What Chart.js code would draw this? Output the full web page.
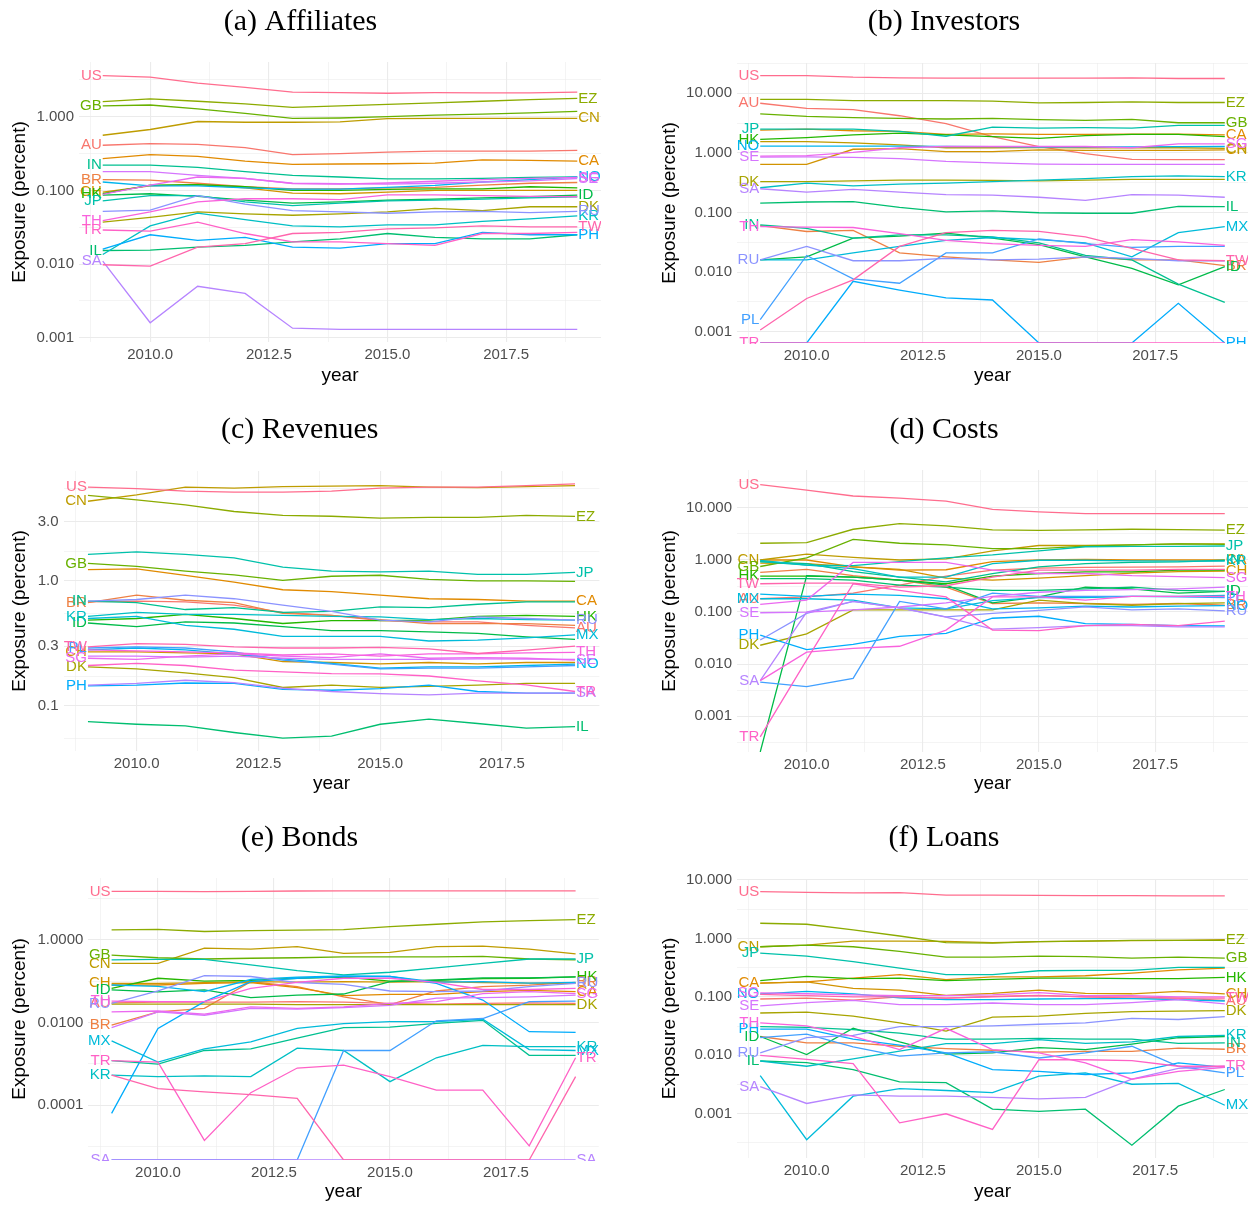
<!DOCTYPE html>
<html><head><meta charset="utf-8">
<script src="https://cdn.jsdelivr.net/npm/chart.js@4.4.1/dist/chart.umd.min.js"></script>
<style>
html,body{margin:0;padding:0;background:#fff;overflow:hidden;width:1251px;height:1205px}
body{position:relative}
canvas{position:absolute;display:block}
</style></head><body>
<canvas id="pa"></canvas><canvas id="pb"></canvas><canvas id="pc"></canvas>
<canvas id="pd"></canvas><canvas id="pe"></canvas><canvas id="pf"></canvas>
<script>
// ---------------- DATA ----------------
const years = [2009, 2010, 2011, 2012, 2013, 2014, 2015, 2016, 2017, 2018, 2019];
const countries = ['AU','BR','CA','CH','CN','DK','EZ','GB','HK','ID','IL','IN','JP','KR','MX','NO','PH','PL','RU','SA','SE','SG','TH','TR','TW','US'];
const xMajorTicks = [2010, 2012.5, 2015, 2017.5];
const xMinorTicks = [2008.75, 2011.25, 2013.75, 2016.25, 2018.75];

// (a) Affiliates
const affiliates = {
  US: [3.6, 3.45, 2.85, 2.5, 2.15, 2.12, 2.08, 2.12, 2.1, 2.1, 2.15],
  EZ: [1.6, 1.74, 1.62, 1.49, 1.34, 1.4, 1.47, 1.54, 1.62, 1.7, 1.77],
  GB: [1.4, 1.44, 1.28, 1.11, 0.95, 0.96, 1.0, 1.05, 1.08, 1.13, 1.18],
  CN: [0.56, 0.67, 0.86, 0.84, 0.84, 0.85, 0.94, 0.95, 0.95, 0.95, 0.95],
  AU: [0.41, 0.43, 0.42, 0.38, 0.305, 0.315, 0.33, 0.34, 0.34, 0.34, 0.35],
  CA: [0.27, 0.305, 0.29, 0.25, 0.225, 0.228, 0.23, 0.235, 0.26, 0.255, 0.25],
  IN: [0.22, 0.22, 0.205, 0.18, 0.16, 0.152, 0.143, 0.143, 0.146, 0.15, 0.153],
  SE: [0.18, 0.18, 0.16, 0.145, 0.125, 0.123, 0.122, 0.125, 0.13, 0.135, 0.145],
  BR: [0.14, 0.138, 0.125, 0.112, 0.105, 0.105, 0.108, 0.11, 0.118, 0.125, 0.128],
  NO: [0.13, 0.115, 0.115, 0.108, 0.104, 0.104, 0.11, 0.117, 0.13, 0.14, 0.152],
  SG: [0.088, 0.118, 0.152, 0.146, 0.124, 0.122, 0.126, 0.133, 0.14, 0.146, 0.15],
  CH: [0.095, 0.115, 0.12, 0.108, 0.092, 0.09, 0.095, 0.1, 0.1, 0.1, 0.1],
  HK: [0.09, 0.118, 0.12, 0.112, 0.1, 0.1, 0.103, 0.105, 0.105, 0.112, 0.108],
  JP: [0.072, 0.085, 0.085, 0.07, 0.062, 0.067, 0.072, 0.074, 0.076, 0.079, 0.082],
  ID: [0.086, 0.09, 0.083, 0.074, 0.067, 0.07, 0.074, 0.076, 0.079, 0.082, 0.086],
  TH: [0.039, 0.051, 0.07, 0.077, 0.077, 0.075, 0.087, 0.087, 0.085, 0.083, 0.082],
  RU: [0.052, 0.054, 0.085, 0.065, 0.053, 0.051, 0.049, 0.051, 0.052, 0.05, 0.052],
  DK: [0.037, 0.043, 0.051, 0.048, 0.046, 0.048, 0.051, 0.057, 0.053, 0.06, 0.06],
  KR: [0.0135, 0.033, 0.049, 0.04, 0.033, 0.032, 0.034, 0.034, 0.038, 0.041, 0.045],
  TR: [0.029, 0.028, 0.037, 0.026, 0.02, 0.02, 0.019, 0.018, 0.026, 0.026, 0.027],
  TW: [0.0098, 0.0094, 0.017, 0.019, 0.026, 0.027, 0.03, 0.031, 0.033, 0.032, 0.032],
  PH: [0.016, 0.025, 0.021, 0.023, 0.017, 0.0165, 0.019, 0.019, 0.027, 0.025, 0.025],
  IL: [0.0153, 0.0155, 0.017, 0.018, 0.02, 0.022, 0.026, 0.023, 0.022, 0.022, 0.025],
  SA: [0.011, 0.0016, 0.005, 0.004, 0.00135, 0.0013, 0.0013, 0.0013, 0.0013, 0.0013, 0.0013]
};
const affiliatesLeft = ['US','GB','AU','IN','BR','CH','HK','JP','TH','TR','IL','SA'];
const affiliatesRight = ['EZ','CN','CA','NO','SG','SE','ID','DK','RU','KR','TW','PH'];

// (b) Investors  (0 = no exposure, drawn on the panel floor)
const investors = {
  US: [19.8, 19.8, 18.6, 18.2, 17.9, 17.9, 17.9, 17.9, 18.2, 17.7, 17.7],
  EZ: [7.9, 7.9, 7.5, 7.5, 7.5, 7.4, 6.9, 7.0, 7.2, 7.0, 7.0],
  AU: [6.8, 5.6, 5.3, 4.2, 3.1, 1.87, 1.27, 0.97, 0.78, 0.77, 0.77],
  GB: [4.5, 4.1, 3.9, 3.8, 3.7, 3.8, 3.6, 3.5, 3.65, 3.2, 3.2],
  JP: [2.5, 2.5, 2.5, 2.3, 1.9, 2.7, 2.6, 2.65, 2.6, 2.9, 2.9],
  CA: [2.4, 2.5, 2.35, 2.3, 2.05, 2.08, 2.05, 2.05, 2.06, 2.06, 2.0],
  HK: [1.68, 1.8, 2.0, 2.15, 2.0, 1.87, 1.75, 1.95, 2.05, 2.05, 1.87],
  NO: [1.3, 1.3, 1.3, 1.3, 1.28, 1.27, 1.25, 1.26, 1.26, 1.27, 1.28],
  CN: [1.55, 1.55, 1.47, 1.36, 1.22, 1.22, 1.23, 1.22, 1.22, 1.22, 1.19],
  CH: [0.64, 0.64, 1.15, 1.18, 1.05, 1.05, 1.12, 1.1, 1.1, 1.1, 1.12],
  SG: [0.88, 0.9, 1.02, 1.22, 1.28, 1.28, 1.28, 1.28, 1.22, 1.42, 1.42],
  SE: [0.85, 0.86, 0.84, 0.8, 0.72, 0.68, 0.65, 0.64, 0.64, 0.64, 0.64],
  KR: [0.26, 0.31, 0.28, 0.3, 0.31, 0.33, 0.35, 0.37, 0.4, 0.41, 0.4],
  DK: [0.33, 0.33, 0.34, 0.35, 0.35, 0.345, 0.34, 0.35, 0.36, 0.36, 0.36],
  SA: [0.25, 0.22, 0.245, 0.22, 0.2, 0.195, 0.18, 0.16, 0.2, 0.195, 0.18],
  IL: [0.143, 0.15, 0.152, 0.122, 0.102, 0.106, 0.099, 0.097, 0.097, 0.127, 0.125],
  IN: [0.062, 0.054, 0.037, 0.042, 0.042, 0.039, 0.031, 0.019, 0.016, 0.0063, 0.0031],
  TH: [0.058, 0.057, 0.056, 0.044, 0.034, 0.03, 0.028, 0.027, 0.035, 0.032, 0.028],
  BR: [0.06, 0.048, 0.05, 0.021, 0.018, 0.016, 0.0146, 0.018, 0.016, 0.016, 0.0128],
  ID: [0.016, 0.018, 0.037, 0.04, 0.045, 0.037, 0.029, 0.018, 0.0115, 0.0061, 0.0123],
  MX: [0.016, 0.016, 0.021, 0.027, 0.034, 0.038, 0.035, 0.031, 0.018, 0.046, 0.058],
  TW: [0.00107, 0.0036, 0.0074, 0.027, 0.046, 0.05, 0.048, 0.039, 0.025, 0.016, 0.0155],
  RU: [0.016, 0.027, 0.0155, 0.0155, 0.017, 0.016, 0.0165, 0.018, 0.017, 0.0155, 0.0155],
  PL: [0.0016, 0.019, 0.0077, 0.0065, 0.021, 0.021, 0.036, 0.03, 0.026, 0.027, 0.027],
  PH: [0, 0, 0.007, 0.005, 0.0037, 0.0034, 0, 0, 0, 0.003, 0],
  TR: [0, 0, 0, 0, 0, 0, 0, 0, 0, 0, 0]
};
const investorsLeft = ['US','AU','JP','HK','NO','SE','DK','SA','IN','TH','RU','PL','TR'];
const investorsRight = ['EZ','GB','CA','SG','CH','CN','KR','IL','MX','TW','BR','ID','PH'];

// (c) Revenues
const revenues = {
  US: [5.65, 5.5, 5.25, 5.15, 5.15, 5.25, 5.55, 5.65, 5.65, 5.8, 6.0],
  CN: [4.35, 4.9, 5.65, 5.55, 5.7, 5.75, 5.8, 5.65, 5.6, 5.7, 5.8],
  EZ: [4.84, 4.47, 4.07, 3.6, 3.35, 3.3, 3.19, 3.23, 3.23, 3.35, 3.29],
  JP: [1.63, 1.71, 1.63, 1.53, 1.29, 1.2, 1.18, 1.2, 1.13, 1.13, 1.17],
  GB: [1.38, 1.31, 1.2, 1.12, 1.01, 1.09, 1.11, 1.03, 1.0, 1.0, 0.99],
  CA: [1.23, 1.25, 1.11, 0.98, 0.85, 0.82, 0.77, 0.72, 0.71, 0.69, 0.69],
  BR: [0.67, 0.77, 0.7, 0.67, 0.55, 0.53, 0.49, 0.455, 0.455, 0.455, 0.44],
  IN: [0.69, 0.67, 0.59, 0.61, 0.56, 0.57, 0.62, 0.61, 0.65, 0.68, 0.68],
  AU: [0.68, 0.69, 0.68, 0.64, 0.56, 0.53, 0.48, 0.47, 0.47, 0.44, 0.42],
  RU: [0.69, 0.71, 0.77, 0.72, 0.64, 0.57, 0.485, 0.47, 0.515, 0.5, 0.485],
  HK: [0.485, 0.5, 0.54, 0.5, 0.456, 0.48, 0.48, 0.485, 0.52, 0.53, 0.52],
  KR: [0.52, 0.56, 0.54, 0.54, 0.53, 0.52, 0.515, 0.49, 0.5, 0.49, 0.485],
  ID: [0.46, 0.43, 0.47, 0.46, 0.43, 0.4, 0.4, 0.39, 0.38, 0.356, 0.34],
  MX: [0.5, 0.52, 0.44, 0.41, 0.36, 0.36, 0.36, 0.33, 0.335, 0.35, 0.37],
  TW: [0.296, 0.315, 0.31, 0.296, 0.29, 0.29, 0.293, 0.285, 0.262, 0.279, 0.3],
  TH: [0.28, 0.275, 0.27, 0.265, 0.255, 0.26, 0.25, 0.26, 0.26, 0.265, 0.268],
  PL: [0.29, 0.296, 0.29, 0.27, 0.232, 0.215, 0.197, 0.2, 0.2, 0.205, 0.21],
  CH: [0.27, 0.27, 0.265, 0.26, 0.226, 0.222, 0.216, 0.222, 0.216, 0.222, 0.222],
  SG: [0.24, 0.235, 0.25, 0.26, 0.25, 0.243, 0.26, 0.24, 0.243, 0.24, 0.232],
  SE: [0.25, 0.25, 0.245, 0.25, 0.24, 0.235, 0.235, 0.235, 0.237, 0.236, 0.235],
  NO: [0.28, 0.29, 0.28, 0.26, 0.237, 0.218, 0.2, 0.205, 0.205, 0.21, 0.215],
  DK: [0.205, 0.197, 0.183, 0.168, 0.14, 0.146, 0.14, 0.143, 0.146, 0.151, 0.151],
  TR: [0.21, 0.218, 0.21, 0.193, 0.187, 0.181, 0.18, 0.173, 0.158, 0.147, 0.13],
  SA: [0.146, 0.151, 0.16, 0.153, 0.138, 0.13, 0.125, 0.122, 0.126, 0.126, 0.126],
  PH: [0.144, 0.146, 0.152, 0.151, 0.135, 0.133, 0.137, 0.146, 0.13, 0.126, 0.126],
  IL: [0.0745, 0.071, 0.069, 0.061, 0.055, 0.057, 0.071, 0.078, 0.072, 0.066, 0.068]
};
const revenuesLeft = ['US','CN','GB','BR','IN','KR','ID','TW','PL','CH','SG','DK','PH'];
const revenuesRight = ['EZ','JP','CA','HK','RU','AU','MX','TH','SE','NO','TR','SA','IL'];

// (d) Costs
const costs = {
  US: [28, 22, 17, 15.5, 13.5, 9.4, 8.4, 7.8, 7.8, 7.8, 7.8],
  EZ: [2.1, 2.15, 3.9, 5.0, 4.55, 3.8, 3.7, 3.8, 3.9, 3.85, 3.75],
  GB: [0.75, 1.1, 2.5, 2.1, 1.95, 1.66, 1.66, 1.85, 1.95, 2.05, 2.0],
  CN: [1.0, 1.3, 1.12, 1.0, 1.05, 1.5, 1.9, 1.9, 1.95, 2.05, 2.05],
  JP: [0.93, 0.8, 0.78, 0.93, 1.1, 1.25, 1.5, 1.8, 1.83, 1.83, 1.86],
  CA: [1.0, 1.0, 0.74, 0.64, 0.65, 0.93, 1.0, 1.03, 1.0, 1.0, 1.0],
  KR: [0.98, 0.8, 0.68, 0.47, 0.47, 0.85, 0.99, 0.99, 0.96, 0.95, 0.95],
  IN: [0.93, 0.85, 0.6, 0.47, 0.38, 0.55, 0.74, 0.85, 0.9, 0.92, 0.99],
  CH: [0.87, 0.85, 0.74, 0.66, 0.45, 0.41, 0.45, 0.5, 0.56, 0.6, 0.61],
  BR: [0.58, 0.66, 0.5, 0.41, 0.3, 0.146, 0.15, 0.146, 0.14, 0.146, 0.135],
  HK: [0.49, 0.49, 0.47, 0.41, 0.35, 0.49, 0.55, 0.59, 0.59, 0.64, 0.64],
  ID: [0, 0.5, 0.47, 0.41, 0.33, 0.15, 0.195, 0.3, 0.28, 0.23, 0.25],
  TW: [0.35, 0.36, 0.36, 0.3, 0.32, 0.47, 0.64, 0.64, 0.64, 0.66, 0.66],
  AU: [0.18, 0.195, 0.23, 0.33, 0.49, 0.64, 0.7, 0.72, 0.73, 0.74, 0.76],
  MX: [0.18, 0.18, 0.17, 0.12, 0.115, 0.165, 0.19, 0.19, 0.2, 0.2, 0.21],
  NO: [0.22, 0.2, 0.22, 0.21, 0.18, 0.115, 0.12, 0.13, 0.125, 0.13, 0.133],
  SE: [0.097, 0.1, 0.11, 0.125, 0.15, 0.2, 0.24, 0.26, 0.27, 0.28, 0.3],
  SG: [0.14, 0.17, 0.9, 0.9, 0.9, 0.64, 0.55, 0.55, 0.5, 0.48, 0.46],
  SA: [0.0048, 0.1, 0.16, 0.12, 0.08, 0.047, 0.05, 0.055, 0.055, 0.052, 0.052],
  RU: [0.029, 0.094, 0.16, 0.12, 0.081, 0.094, 0.108, 0.126, 0.11, 0.115, 0.105],
  PH: [0.036, 0.019, 0.024, 0.034, 0.039, 0.076, 0.083, 0.06, 0.058, 0.055, 0.054],
  PL: [0.0045, 0.0037, 0.0053, 0.16, 0.115, 0.23, 0.2, 0.2, 0.2, 0.195, 0.19],
  DK: [0.023, 0.038, 0.11, 0.11, 0.11, 0.11, 0.17, 0.145, 0.135, 0.145, 0.15],
  TR: [0.0004, 0.012, 0.35, 0.26, 0.195, 0.045, 0.044, 0.055, 0.058, 0.055, 0.067],
  TH: [0.0048, 0.017, 0.02, 0.022, 0.045, 0.195, 0.195, 0.17, 0.2, 0.2, 0.2],
  IL: [0.44, 0.44, 0.41, 0.33, 0.3, 0.26, 0.26, 0.28, 0.3, 0.26, 0.25]
};
const costsLeft = ['US','CN','GB','HK','TW','MX','AU','SE','PH','DK','SA','TR'];
const costsRight = ['EZ','JP','IN','KR','CA','CH','SG','IL','ID','TH','NO','BR','PL','RU'];

// (e) Bonds
const bonds = {
  US: [15.0, 15.0, 14.8, 15.0, 15.3, 15.4, 15.4, 15.4, 15.4, 15.4, 15.4],
  EZ: [1.75, 1.8, 1.6, 1.68, 1.72, 1.78, 2.1, 2.4, 2.75, 2.95, 3.1],
  CN: [0.27, 0.27, 0.63, 0.6, 0.69, 0.475, 0.5, 0.69, 0.71, 0.6, 0.46],
  GB: [0.43, 0.37, 0.345, 0.36, 0.37, 0.39, 0.39, 0.39, 0.4, 0.345, 0.33],
  JP: [0.33, 0.34, 0.34, 0.25, 0.18, 0.142, 0.165, 0.21, 0.27, 0.345, 0.345],
  HK: [0.067, 0.118, 0.1, 0.105, 0.118, 0.125, 0.1, 0.105, 0.115, 0.118, 0.128],
  CH: [0.089, 0.089, 0.092, 0.098, 0.095, 0.098, 0.095, 0.098, 0.092, 0.09, 0.089],
  CA: [0.081, 0.081, 0.089, 0.093, 0.07, 0.045, 0.048, 0.048, 0.056, 0.06, 0.056],
  ID: [0.062, 0.055, 0.062, 0.04, 0.046, 0.049, 0.098, 0.107, 0.12, 0.12, 0.128],
  NO: [0.081, 0.075, 0.056, 0.11, 0.125, 0.135, 0.13, 0.095, 0.098, 0.09, 0.094],
  RU: [0.029, 0.058, 0.137, 0.13, 0.093, 0.084, 0.058, 0.056, 0.058, 0.074, 0.089],
  AU: [0.03, 0.031, 0.031, 0.031, 0.032, 0.031, 0.029, 0.028, 0.029, 0.03, 0.029],
  TH: [0.033, 0.032, 0.032, 0.067, 0.094, 0.118, 0.118, 0.094, 0.063, 0.063, 0.067],
  SG: [0.018, 0.019, 0.016, 0.024, 0.022, 0.024, 0.029, 0.032, 0.05, 0.056, 0.05],
  DK: [0.028, 0.028, 0.028, 0.028, 0.027, 0.027, 0.027, 0.027, 0.027, 0.027, 0.027],
  BR: [0.0087, 0.018, 0.022, 0.098, 0.074, 0.042, 0.027, 0.058, 0.074, 0.08, 0.094],
  SE: [0.0075, 0.018, 0.015, 0.022, 0.021, 0.023, 0.026, 0.039, 0.04, 0.042, 0.046],
  KR: [0.00053, 0.00049, 0.00051, 0.00049, 0.0024, 0.0021, 0.00037, 0.0014, 0.0028, 0.0026, 0.0026],
  MX: [0.0036, 0.0011, 0.0023, 0.0034, 0.0072, 0.0094, 0.0105, 0.0105, 0.012, 0.0022, 0.0021],
  IN: [0.0012, 0.00098, 0.0021, 0.0023, 0.0042, 0.0075, 0.0077, 0.0095, 0.0113, 0.0016, 0.0016],
  PH: [0.000063, 0.0072, 0.032, 0.098, 0.118, 0.13, 0.13, 0.089, 0.035, 0.006, 0.0058],
  PL: [0, 0, 0, 0, 0, 0.0021, 0.0021, 0.011, 0.0125, 0.032, 0.033],
  TR: [0.0012, 0.0011, 0.000014, 0.0002, 0.00079, 0.00093, 0.00049, 0.00023, 0.00023, 0.0000103, 0.0014],
  TW: [0.00053, 0.00025, 0.00021, 0.00018, 0.000145, 0, 0, 0, 0, 0, 0.00049],
  SA: [0, 0, 0, 0, 0, 0, 0, 0, 0, 0, 0]
};
const bondsLeft = ['US','GB','CN','CH','ID','TH','AU','RU','BR','MX','TR','KR','SA'];
const bondsRight = ['EZ','JP','HK','BR','RU','CA','SG','DK','KR','MX','TR','SA'];

// (f) Loans
const loans = {
  US: [6.3, 6.15, 6.0, 6.1, 5.5, 5.5, 5.45, 5.4, 5.4, 5.35, 5.35],
  EZ: [1.82, 1.75, 1.4, 1.1, 0.85, 0.83, 0.88, 0.9, 0.93, 0.93, 0.93],
  CN: [0.72, 0.77, 0.9, 0.9, 0.89, 0.85, 0.88, 0.9, 0.92, 0.93, 0.95],
  GB: [0.72, 0.77, 0.72, 0.6, 0.48, 0.48, 0.5, 0.49, 0.46, 0.48, 0.46],
  JP: [0.56, 0.5, 0.4, 0.31, 0.24, 0.24, 0.28, 0.285, 0.285, 0.32, 0.32],
  CA: [0.172, 0.18, 0.21, 0.24, 0.197, 0.22, 0.22, 0.23, 0.255, 0.29, 0.31],
  HK: [0.19, 0.224, 0.205, 0.21, 0.19, 0.2, 0.21, 0.21, 0.205, 0.205, 0.215],
  CH: [0.172, 0.18, 0.14, 0.13, 0.106, 0.115, 0.13, 0.115, 0.113, 0.124, 0.113],
  NO: [0.113, 0.124, 0.113, 0.096, 0.09, 0.09, 0.092, 0.093, 0.093, 0.09, 0.085],
  SG: [0.117, 0.113, 0.108, 0.105, 0.105, 0.108, 0.118, 0.105, 0.105, 0.1, 0.1],
  TW: [0.11, 0.105, 0.1, 0.1, 0.095, 0.1, 0.105, 0.1, 0.1, 0.095, 0.095],
  AU: [0.092, 0.095, 0.088, 0.1, 0.095, 0.102, 0.106, 0.1, 0.095, 0.095, 0.087],
  SE: [0.07, 0.08, 0.087, 0.0735, 0.0735, 0.0785, 0.0735, 0.0735, 0.08, 0.0895, 0.076],
  DK: [0.053, 0.055, 0.047, 0.036, 0.026, 0.045, 0.047, 0.052, 0.056, 0.057, 0.058],
  RU: [0.011, 0.02, 0.022, 0.031, 0.031, 0.032, 0.034, 0.036, 0.043, 0.041, 0.046],
  TH: [0.036, 0.032, 0.021, 0.0125, 0.029, 0.0125, 0.011, 0.0074, 0.0039, 0.0053, 0.0062],
  TR: [0.01, 0.0085, 0.0072, 0.0007, 0.001, 0.00054, 0.0084, 0.0084, 0.0081, 0.0065, 0.0065],
  PH: [0.028, 0.028, 0.019, 0.015, 0.011, 0.0057, 0.0053, 0.0047, 0.005, 0.0074, 0.0062],
  PL: [0.02, 0.023, 0.014, 0.0097, 0.011, 0.0115, 0.009, 0.011, 0.0143, 0.0065, 0.005],
  ID: [0.021, 0.0103, 0.029, 0.017, 0.0105, 0.011, 0.0135, 0.0125, 0.0155, 0.02, 0.021],
  IN: [0.031, 0.03, 0.0275, 0.024, 0.019, 0.019, 0.0195, 0.019, 0.019, 0.016, 0.0163],
  KR: [0.008, 0.0065, 0.0087, 0.0118, 0.0158, 0.0158, 0.0186, 0.016, 0.017, 0.021, 0.022],
  BR: [0.021, 0.0163, 0.0163, 0.0143, 0.013, 0.0122, 0.0113, 0.0117, 0.0117, 0.0133, 0.0127],
  IL: [0.008, 0.0075, 0.0057, 0.0035, 0.0034, 0.0012, 0.0011, 0.0012, 0.00029, 0.00135, 0.0026],
  MX: [0.0045, 0.00036, 0.002, 0.0027, 0.0025, 0.0023, 0.0044, 0.005, 0.0032, 0.0033, 0.0014],
  SA: [0.0029, 0.0015, 0.0021, 0.002, 0.002, 0.0019, 0.0018, 0.0019, 0.0039, 0.006, 0.0065]
};
const loansLeft = ['US','CN','JP','CA','NO','SG','SE','TH','PH','ID','RU','IL','SA'];
const loansRight = ['EZ','GB','HK','CH','TW','AU','DK','KR','IN','BR','TR','PL','MX'];

// y-axis break labels per panel
const ticksA = [0.001, 0.01, 0.1, 1];
const ticksB = [0.001, 0.01, 0.1, 1, 10];
const ticksC = [0.1, 0.3, 1, 3];
const ticksD = [0.001, 0.01, 0.1, 1, 10];
const ticksE = [0.0001, 0.01, 1];
const ticksF = [0.001, 0.01, 0.1, 1, 10];
const minorC = [0.0548, 0.173, 0.548, 1.73, 5.48];
const minorE = [0.00001, 0.001, 0.1, 10];

// ---------------- STYLE / LAYOUT ----------------
function hcl(h, c, l) {
  const WY = 100, Wu = 0.1978398, Wv = 0.4683363;
  const hr = h * Math.PI / 180;
  const U = c * Math.cos(hr), V = c * Math.sin(hr);
  const Y = WY * (l > 7.999592 ? Math.pow((l + 16) / 116, 3) : l / 903.3);
  const u = U / (13 * l) + Wu, v = V / (13 * l) + Wv;
  const X = 9 * Y * u / (4 * v);
  const Z = -X / 3 - 5 * Y + 3 * Y / v;
  const g = t => { t = t > 0.00304 ? 1.055 * Math.pow(t, 1 / 2.4) - 0.055 : 12.92 * t; return Math.round(255 * Math.min(1, Math.max(0, t))); };
  return 'rgb(' + g((3.240479 * X - 1.537150 * Y - 0.498535 * Z) / WY) + ',' +
    g((-0.969256 * X + 1.875992 * Y + 0.041556 * Z) / WY) + ',' +
    g((0.055648 * X - 0.204043 * Y + 1.057311 * Z) / WY) + ')';
}
const palette = {};
countries.forEach((c, i) => { palette[c] = hcl(15 + i * 360 / countries.length, 100, 65); });

const SANS = '"Liberation Sans", Arial, Helvetica, sans-serif';
const SERIF = '"Liberation Serif", "Times New Roman", serif';
Chart.defaults.font.family = SANS;

const labelPlugin = {
  id: 'dirLabels',
  afterDatasetsDraw(chart) {
    const { ctx, chartArea: a, scales: { x, y } } = chart;
    ctx.save();
    ctx.beginPath();
    ctx.rect(a.left, a.top - 1, a.right - a.left, a.bottom - a.top + 2);
    ctx.clip();
    ctx.font = '15px ' + SANS;
    ctx.textBaseline = 'middle';
    const dss = chart.data.datasets.slice().sort((p, q) => p.idx - q.idx);
    dss.forEach(ds => {
      const d = ds.data;
      ctx.fillStyle = ds.borderColor;
      if (ds.labLeft) {
        ctx.textAlign = 'right';
        ctx.fillText(ds.label, x.getPixelForValue(d[0].x) - 1, y.getPixelForValue(d[0].y));
      }
      if (ds.labRight) {
        const p = d[d.length - 1];
        ctx.textAlign = 'left';
        ctx.fillText(ds.label, x.getPixelForValue(p.x) + 1, y.getPixelForValue(p.y));
      }
    });
    ctx.restore();
  }
};

function fmt(v, dec) { return v.toFixed(dec); }

function makePanel(cfg) {
  const cv = document.getElementById(cfg.id);
  cv.width = cfg.w; cv.height = cfg.h;
  cv.style.left = cfg.x0 + 'px'; cv.style.top = cfg.y0 + 'px';
  cv.style.width = cfg.w + 'px'; cv.style.height = cfg.h + 'px';
  const ymin = Math.pow(10, cfg.lo), ymax = Math.pow(10, cfg.hi);
  const Lr = cfg.L - cfg.x0, Rr = cfg.R - cfg.x0, Tr = cfg.T - cfg.y0, Br = cfg.B - cfg.y0;
  const datasets = Object.keys(cfg.data).map(code => {
    const idx = countries.indexOf(code);
    return {
      label: code,
      idx: idx,
      order: -idx,
      data: years.map((yr, i) => ({ x: yr, y: cfg.data[code][i] > 0 ? cfg.data[code][i] : ymin })),
      borderColor: palette[code],
      backgroundColor: palette[code],
      borderWidth: 1.3,
      pointRadius: 0,
      tension: 0,
      fill: false,
      labLeft: cfg.left.includes(code),
      labRight: cfg.right.includes(code)
    };
  });
  let minors = cfg.minor;
  if (!minors) {
    minors = [];
    for (let e = -6; e <= 3; e++) minors.push(Math.pow(10, e + 0.5));
  }
  const yTicks = cfg.majors.map(v => ({ value: v, isMaj: true }))
    .concat(minors.map(v => ({ value: v, isMaj: false })))
    .filter(t => t.value >= ymin && t.value <= ymax)
    .sort((p, q) => p.value - q.value);
  const xTicks = xMajorTicks.map(v => ({ value: v, isMaj: true }))
    .concat(xMinorTicks.map(v => ({ value: v, isMaj: false })))
    .sort((p, q) => p.value - q.value);
  const gridW = c => (c.tick && c.tick.isMaj) ? 1.1 : 0.55;
  new Chart(cv, {
    type: 'line',
    data: { datasets },
    plugins: [labelPlugin],
    options: {
      responsive: false,
      animation: false,
      devicePixelRatio: 1,
      layout: { padding: { left: 0, top: 0, bottom: 0, right: cfg.w - Rr } },
      plugins: {
        legend: { display: false },
        tooltip: { enabled: false },
        title: {
          display: true, text: cfg.title, color: '#000',
          font: { family: SERIF, size: 30, weight: 'normal', lineHeight: 1.2 },
          padding: { top: cfg.tTop, bottom: Tr - cfg.tTop - 36 }
        }
      },
      scales: {
        x: {
          type: 'linear', min: 2008.5, max: 2019.5, bounds: 'data',
          afterFit: s => { s.height = cfg.h - Br; },
          afterBuildTicks: s => { s.ticks = xTicks.map(t => ({ value: t.value, isMaj: t.isMaj })); },
          grid: { color: '#EBEBEB', lineWidth: gridW, drawTicks: false },
          border: { display: false },
          ticks: {
            autoSkip: false, maxRotation: 0, minRotation: 0, padding: 4, color: '#4D4D4D',
            font: { size: 15 },
            callback: (v, i, t) => t[i].isMaj ? fmt(v, 1) : ''
          },
          title: { display: true, text: 'year', color: '#000', font: { size: 19 }, padding: { top: 0, bottom: cfg.xpb } }
        },
        y: {
          type: 'logarithmic', min: ymin, max: ymax, bounds: 'data',
          afterFit: s => { s.width = Lr; },
          afterBuildTicks: s => { s.ticks = yTicks.map(t => ({ value: t.value, isMaj: t.isMaj })); },
          grid: { color: '#EBEBEB', lineWidth: gridW, drawTicks: false },
          border: { display: false },
          ticks: {
            autoSkip: false, padding: 5, color: '#4D4D4D', font: { size: 15 },
            callback: (v, i, t) => t[i].isMaj ? fmt(v, cfg.dec) : ''
          },
          title: { display: true, text: 'Exposure (percent)', color: '#000', font: { size: 19 }, padding: { top: cfg.ytp, bottom: 0 } }
        }
      }
    }
  });
}

const LEFT = { x0: 0, w: 610, ytp: 8.6 };
const RIGHT = { x0: 640, w: 630, ytp: 18.6 };
const ROW1 = { y0: 0, h: 400, tTop: 4, xpb: 12.6 };
const ROW2 = { y0: 405, h: 405, tTop: 7, xpb: 14.6 };
const ROW3 = { y0: 812, h: 393, tTop: 8, xpb: 1.6 };

makePanel(Object.assign({ id: 'pa', title: '(a) Affiliates', data: affiliates, left: affiliatesLeft, right: affiliatesRight,
  L: 79, R: 601, T: 62, B: 342, lo: -3.057, hi: 0.742, majors: ticksA, dec: 3 }, LEFT, ROW1));
makePanel(Object.assign({ id: 'pb', title: '(b) Investors', data: investors, left: investorsLeft, right: investorsRight,
  L: 737, R: 1248, T: 63, B: 343, lo: -3.19, hi: 1.508, majors: ticksB, dec: 3 }, RIGHT, ROW1));
makePanel(Object.assign({ id: 'pc', title: '(c) Revenues', data: revenues, left: revenuesLeft, right: revenuesRight,
  L: 63.6, R: 599.4, T: 471, B: 751, lo: -1.363, hi: 0.881, majors: ticksC, minor: minorC, dec: 1 }, LEFT, ROW2));
makePanel(Object.assign({ id: 'pd', title: '(d) Costs', data: costs, left: costsLeft, right: costsRight,
  L: 737, R: 1248, T: 470, B: 752, lo: -3.69, hi: 1.73, majors: ticksD, dec: 3 }, RIGHT, ROW2));
makePanel(Object.assign({ id: 'pe', title: '(e) Bonds', data: bonds, left: bondsLeft, right: bondsRight,
  L: 88.4, R: 598.8, T: 878, B: 1160, lo: -5.33, hi: 1.50, majors: ticksE, minor: minorE, dec: 4 }, LEFT, ROW3));
makePanel(Object.assign({ id: 'pf', title: '(f) Loans', data: loans, left: loansLeft, right: loansRight,
  L: 737, R: 1248, T: 879, B: 1158, lo: -3.757, hi: 1.017, majors: ticksF, dec: 3 }, RIGHT, ROW3));
</script>
</body></html>
